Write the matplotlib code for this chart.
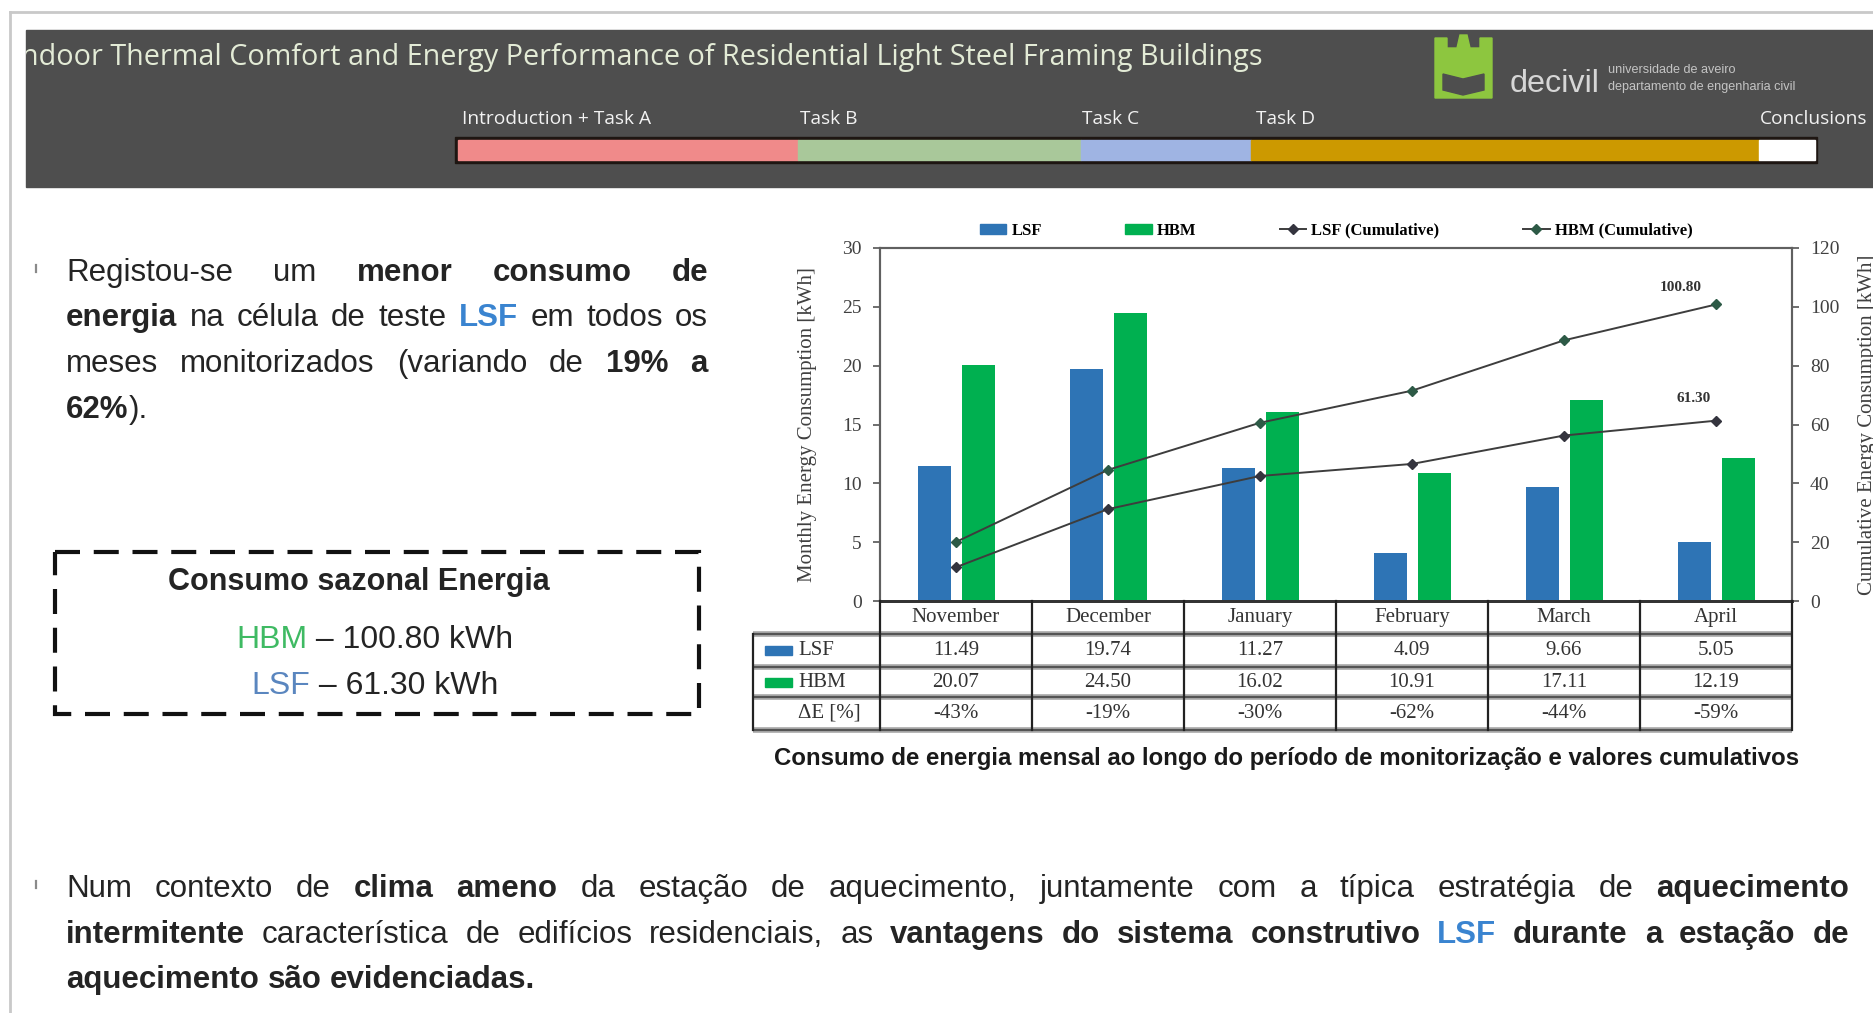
import numpy as np
import matplotlib
matplotlib.use("Agg")
import matplotlib.pyplot as plt
from matplotlib.patches import Rectangle, Polygon, Patch
from matplotlib.lines import Line2D
from matplotlib.transforms import blended_transform_factory, Bbox, TransformedBbox

# ---------------- data ----------------
months = ["November", "December", "January", "February", "March", "April"]
lsf = [11.49, 19.74, 11.27, 4.09, 9.66, 5.05]
hbm = [20.07, 24.50, 16.02, 10.91, 17.11, 12.19]
delta_e = [-43, -19, -30, -62, -44, -59]
left_ticks = [0, 5, 10, 15, 20, 25, 30]
right_ticks = [0, 20, 40, 60, 80, 100, 120]
sections = ["Introduction + Task A", "Task B", "Task C", "Task D", "Conclusions"]

title = "Indoor Thermal Comfort and Energy Performance of Residential Light Steel Framing Buildings"
caption = "Consumo de energia mensal ao longo do período de monitorização e valores cumulativos"
left_par = [
    "Registou-se um *menor* *consumo* *de*",
    "*energia* na célula de teste ^LSF^ em todos os",
    "meses monitorizados (variando de *19%* *a*",
    "*62%*).",
]
bottom_par = [
    "Num contexto de *clima* *ameno* da estação de aquecimento, juntamente com a típica estratégia de *aquecimento*",
    "*intermitente* característica de edifícios residenciais, as *vantagens* *do* *sistema* *construtivo* ^LSF^ *durante* *a* *estação* *de*",
    "*aquecimento* *são* *evidenciadas.*",
]

# ---------------- style ----------------
BLUE = "#2e74b5"
GREEN = "#00b050"
TXT = "#242424"
LSF_TXT = "#3a84d0"
HBM_TXT = "#3fba63"
LSF_BOX = "#5a86bf"
SEC_COLORS = ["#f08a8a", "#a9c89a", "#9fb4e3", "#cc9900", "#ffffff"]
SEC_EDGES = [458, 798, 1081, 1251, 1759, 1815]
SANS = "Liberation Sans"
SERIF = "Liberation Serif"

W, H = 1873, 1013
plt.rcParams["font.family"] = SERIF
fig = plt.figure(figsize=(W / 100, H / 100), dpi=100)
fig.patch.set_facecolor("white")
bg = fig.add_axes([0, 0, 1, 1])
bg.set_xlim(0, W)
bg.set_ylim(H, 0)
bg.axis("off")
R = fig.canvas.get_renderer()


def tw(s, **kw):
    t = bg.text(0, 0, s, **kw)
    w = t.get_window_extent(renderer=R).width
    t.remove()
    return w


def fit(s, target, base=20, **kw):
    return base * target / tw(s, fontsize=base, **kw)


# ---------------- slide frame & header ----------------
bg.plot([10, 10], [12, H], color="#c9c9c9", lw=2)
bg.plot([10, W], [12, 12], color="#c9c9c9", lw=2)
band = Rectangle((26, 30), W - 26, 157, color="#4e4e4e", zorder=1)
bg.add_patch(band)

tsize = fit(title[1:], 1237, family="Open Sans")
t = bg.text(1263, 57, title, ha="right", va="center", family="Open Sans",
            fontsize=tsize, color="#e3ebd6", zorder=3)
t.set_clip_on(True)
t.set_clip_box(TransformedBbox(Bbox([[26, 30], [W, 187]]), bg.transData))

# progress bar
bg.add_patch(Rectangle((SEC_EDGES[0] - 3, 137), SEC_EDGES[-1] - SEC_EDGES[0] + 5, 26,
                       color="#1e1612", zorder=2))
for i, c in enumerate(SEC_COLORS):
    bg.add_patch(Rectangle((SEC_EDGES[i], 140), SEC_EDGES[i + 1] - SEC_EDGES[i], 20,
                           color=c, zorder=3))
ssize = fit(sections[0], 189, family="Open Sans")
sec_x = [462, 800, 1082, 1256, 1760]
for s, xx in zip(sections, sec_x):
    bg.text(xx, 119, s, ha="left", va="center", family="Open Sans", fontsize=ssize,
            color="#f2f2f2", zorder=3)

# logo
lg = "#8dc63f"
castle = [(1435, 98), (1435, 38), (1447, 38), (1447, 48), (1457, 48), (1460, 35),
          (1467, 35), (1470, 48), (1480, 48), (1480, 38), (1492, 38), (1492, 98)]
bg.add_patch(Polygon(castle, closed=True, color=lg, zorder=3))
book = [(1443, 74), (1463, 79), (1484, 74), (1484, 90), (1463, 95), (1443, 90)]
bg.add_patch(Polygon(book, closed=True, color="#4e4e4e", zorder=4))
dsize = fit("decivil", 90, family=SANS)
bg.text(1510, 92, "decivil", ha="left", va="baseline", family=SANS, fontsize=dsize,
        color="#d6d6d6", zorder=3)
usize = fit("universidade de aveiro", 127, family=SANS)
bg.text(1608, 73, "universidade de aveiro", ha="left", va="baseline", family=SANS,
        fontsize=usize, color="#c4c4c4", zorder=3)
bg.text(1608, 90, "departamento de engenharia civil", ha="left", va="baseline", family=SANS,
        fontsize=usize, color="#c4c4c4", zorder=3)


# ---------------- justified paragraphs ----------------
BODY = 22.5


def parse(token):
    pieces, cur, bold, blue = [], "", False, False
    for ch in token:
        if ch in "*^":
            if cur:
                pieces.append((cur, bold or blue, blue))
            cur = ""
            if ch == "*":
                bold = not bold
            else:
                blue = not blue
        else:
            cur += ch
    if cur:
        pieces.append((cur, bold or blue, blue))
    return pieces


space_w = tw("a a", family=SANS, fontsize=BODY) - tw("aa", family=SANS, fontsize=BODY)


def draw_line(line, x0, x1, yb, justify=True):
    words = [parse(tok) for tok in line.split(" ")]
    widths = [[tw(p, family=SANS, fontsize=BODY, fontweight="bold" if b else "normal")
               for p, b, bl in w] for w in words]
    total = sum(sum(ws) for ws in widths)
    gap = (x1 - x0 - total) / (len(words) - 1) if (justify and len(words) > 1) else space_w
    x = x0
    for w, ws in zip(words, widths):
        for (p, b, bl), pw in zip(w, ws):
            bg.text(x, yb, p, ha="left", va="baseline", family=SANS, fontsize=BODY,
                    fontweight="bold" if b else "normal", color=LSF_TXT if bl else TXT)
            x += pw
        x += gap


def bullet(y):
    bg.plot([36, 36], [y - 5, y + 2], color="#8a8a8a", lw=1.6)


left_y = [281, 326, 372, 418]
for i, (ln, yb) in enumerate(zip(left_par, left_y)):
    draw_line(ln, 66, 708, yb, justify=i < len(left_par) - 1)
bullet(270)

bot_y = [897, 943, 988]
for i, (ln, yb) in enumerate(zip(bottom_par, bot_y)):
    draw_line(ln, 66, 1849, yb, justify=i < len(bottom_par) - 1)
bullet(886)

# dashed box
bg.add_patch(Rectangle((55, 552), 644, 162, fill=False, ec="#111111", lw=3,
                       linestyle=(0, (6, 3.3)), zorder=3))
bg.text(359, 582, "Consumo sazonal Energia", ha="center", va="center", family=SANS,
        fontsize=22, fontweight="bold", color=TXT)


def mixed_center(cx, y, parts, size):
    ws = [tw(p, family=SANS, fontsize=size) for p, c in parts]
    x = cx - sum(ws) / 2
    for (p, c), w in zip(parts, ws):
        bg.text(x, y, p, ha="left", va="center", family=SANS, fontsize=size, color=c)
        x += w


mixed_center(375, 640, [("HBM", HBM_TXT), (f" – {sum(hbm):.2f} kWh", TXT)], 23)
mixed_center(375, 686, [("LSF", LSF_BOX), (f" – {sum(lsf):.2f} kWh", TXT)], 23)

# caption
csize = fit(caption, 1023, family=SANS, fontweight="bold")
bg.text(1287, 758, caption, ha="center", va="center", family=SANS, fontweight="bold",
        fontsize=csize, color="#1a1a1a")

# ---------------- chart ----------------
ax = fig.add_axes([880 / W, 1 - 601 / H, 912 / W, 353 / H])
x = np.arange(len(months))
ax.bar(x - 0.14, lsf, width=0.22, color=BLUE, zorder=2)
ax.bar(x + 0.148, hbm, width=0.22, color=GREEN, zorder=2)
ax.set_xlim(-0.5, len(months) - 0.5)
ax.set_ylim(left_ticks[0], left_ticks[-1])
ax.set_yticks(left_ticks)
ax.set_xticks([])
ax2 = ax.twinx()
ax2.set_ylim(right_ticks[0], right_ticks[-1])
ax2.set_yticks(right_ticks)
lsf_cum = np.cumsum(lsf)
hbm_cum = np.cumsum(hbm)
ax2.plot(x, lsf_cum, color="#3d3d3d", lw=1.4, marker="D", ms=5, mfc="#34343e", mec="#34343e", zorder=3)
ax2.plot(x, hbm_cum, color="#3d3d3d", lw=1.4, marker="D", ms=5, mfc="#2d5a46", mec="#2d5a46", zorder=3)
ax2.annotate(f"{hbm_cum[-1]:.2f}", (x[-1], hbm_cum[-1]), xytext=(-35, 17), textcoords="offset pixels",
             ha="center", va="center", fontsize=11, fontweight="bold", color="#333333")
ax2.annotate(f"{lsf_cum[-1]:.2f}", (x[-1], lsf_cum[-1]), xytext=(-22, 22), textcoords="offset pixels",
             ha="center", va="center", fontsize=11, fontweight="bold", color="#333333")

for a in (ax, ax2):
    for sp in a.spines.values():
        sp.set_color("#606060")
        sp.set_linewidth(1.5)
    a.spines["bottom"].set_color("#333333")
    a.spines["bottom"].set_linewidth(2)
    a.tick_params(axis="y", direction="out", length=5, width=1.2, color="#555555",
                  labelsize=14, labelcolor="#404040", pad=8)
ax.set_ylabel("Monthly Energy Consumption [kWh]", fontsize=15, color="#404040")
ax.yaxis.set_label_coords(-0.069, 0.5)
ax2.set_ylabel("Cumulative Energy Consumption [kWh]", fontsize=15, color="#404040")
ax2.yaxis.set_label_coords(1.072, 0.5)

handles = [Patch(color=BLUE, label="LSF"), Patch(color=GREEN, label="HBM"),
           Line2D([], [], color="#3d3d3d", lw=1.4, marker="D", ms=5, mfc="#34343e", mec="#34343e",
                  label="LSF (Cumulative)"),
           Line2D([], [], color="#3d3d3d", lw=1.4, marker="D", ms=5, mfc="#2d5a46", mec="#2d5a46",
                  label="HBM (Cumulative)")]
ax2.legend(handles=handles, ncol=4, loc="lower center", bbox_to_anchor=(0.5, 1.0),
           frameon=False, prop={"weight": "bold", "size": 12}, columnspacing=5.0,
           handlelength=1.6, handleheight=0.5, handletextpad=0.3, borderaxespad=0.15)

# ---------------- data table under the chart ----------------
trans = blended_transform_factory(ax.transData, bg.transData)
x_left = -0.5 - (880 - 753) / 152
row_lines = [634, 667, 697, 730]
for yy in row_lines:
    fig.add_artist(Line2D([x_left, len(months) - 0.5], [yy, yy], transform=trans,
                          color="#a3a3a3", lw=4, solid_capstyle="butt"))
    fig.add_artist(Line2D([x_left, len(months) - 0.5], [yy, yy], transform=trans,
                          color="#3c3c3c", lw=1.1))
fig.add_artist(Line2D([x_left, x_left], [634, 730], transform=trans, color="#222222", lw=1.6))
for k in range(len(months) + 1):
    fig.add_artist(Line2D([k - 0.5, k - 0.5], [601, 730], transform=trans, color="#222222", lw=1.6))

rows_y = [617, 650, 682, 713]
for i, m in enumerate(months):
    fig.text(i, rows_y[0], m, transform=trans, ha="center", va="center", fontsize=15, color="#333333")
    fig.text(i, rows_y[1], f"{lsf[i]:.2f}", transform=trans, ha="center", va="center", fontsize=15, color="#333333")
    fig.text(i, rows_y[2], f"{hbm[i]:.2f}", transform=trans, ha="center", va="center", fontsize=15, color="#333333")
    fig.text(i, rows_y[3], f"{delta_e[i]}%", transform=trans, ha="center", va="center", fontsize=15, color="#333333")

px_lo = -0.5 - (880 - 765) / 152
px_hi = -0.5 - (880 - 792) / 152
for yy, col in ((rows_y[1], BLUE), (rows_y[2], GREEN)):
    fig.add_artist(Rectangle((px_lo, yy - 4.5), px_hi - px_lo, 9, transform=trans, color=col))
tx = -0.5 - (880 - 798) / 152
fig.text(tx, rows_y[1], "LSF", transform=trans, ha="left", va="center", fontsize=15, color="#333333")
fig.text(tx, rows_y[2], "HBM", transform=trans, ha="left", va="center", fontsize=15, color="#333333")
fig.text(tx, rows_y[3], "ΔE [%]", transform=trans, ha="left", va="center", fontsize=15, color="#333333")

fig.savefig("out.png", dpi=100, facecolor="white")
